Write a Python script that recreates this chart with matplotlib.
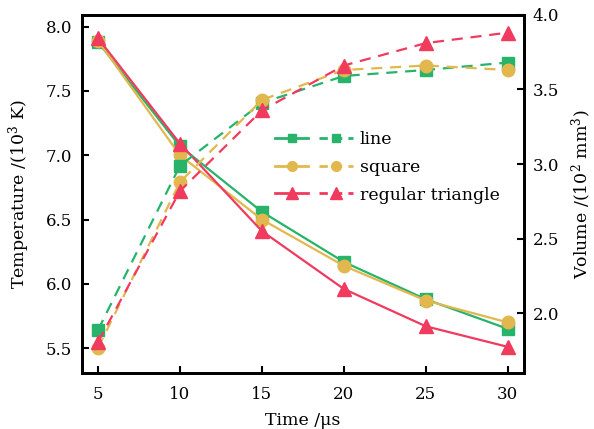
import matplotlib
matplotlib.use("Agg")
import matplotlib.pyplot as plt
from matplotlib.lines import Line2D
from matplotlib.legend_handler import HandlerTuple

# data
time = [5, 10, 15, 20, 25, 30]
shapes = ["line", "square", "regular triangle"]
temp_line = [7.88, 7.07, 6.56, 6.17, 5.88, 5.65]
temp_square = [7.89, 7.00, 6.50, 6.14, 5.87, 5.70]
temp_triangle = [7.91, 7.09, 6.41, 5.96, 5.67, 5.51]
vol_line = [1.89, 2.99, 3.41, 3.59, 3.63, 3.68]
vol_square = [1.77, 2.88, 3.43, 3.63, 3.66, 3.63]
vol_triangle = [1.81, 2.82, 3.36, 3.66, 3.81, 3.88]

colors = ["#27b36a", "#e2b84e", "#f03a5e"]
markers = ["s", "o", "^"]
msizes = [8, 9, 10]

plt.rcParams["font.family"] = ["DejaVu Serif"]
plt.rcParams["font.size"] = 12
plt.rcParams["mathtext.fontset"] = "dejavuserif"

fig = plt.figure(figsize=(5.94, 4.29), dpi=100)
ax = fig.add_axes([0.1375, 0.13, 0.745, 0.8357])
ax2 = ax.twinx()

temps = [temp_line, temp_square, temp_triangle]
vols = [vol_line, vol_square, vol_triangle]
handles = []
for i in range(3):
    ax.plot(time, temps[i], color=colors[i], marker=markers[i], ms=msizes[i], lw=1.6)
    ax2.plot(time, vols[i], color=colors[i], marker=markers[i], ms=msizes[i], lw=1.6,
             ls=(0, (5, 3.5)))
    # smaller proxies for the legend
    p1 = Line2D([], [], color=colors[i], marker=markers[i], ms=msizes[i] - 2, lw=2)
    p2 = Line2D([], [], color=colors[i], marker=markers[i], ms=msizes[i] - 2, lw=2,
                ls=(0, (3, 2.2)))
    handles.append((p1, p2))

ax.set_xlim(4, 31)
ax.set_ylim(5.305, 8.093)
ax2.set_ylim(1.6, 4.0)
ax.set_xticks(time)
ax.set_yticks([5.5, 6.0, 6.5, 7.0, 7.5, 8.0])
ax2.set_yticks([2.0, 2.5, 3.0, 3.5, 4.0])
ax.yaxis.set_major_formatter(matplotlib.ticker.FormatStrFormatter("%.1f"))
ax2.yaxis.set_major_formatter(matplotlib.ticker.FormatStrFormatter("%.1f"))

ax.set_xlabel("Time /μs", fontsize=12.5, labelpad=7)
ax.set_ylabel("Temperature /(10$^3$ K)", fontsize=12.5, labelpad=10)
ax2.set_ylabel("Volume /(10$^2$ mm$^3$)", fontsize=12.5, labelpad=8)

for a in (ax, ax2):
    a.tick_params(direction="in", length=5, width=1.5, labelsize=12)
    for s in a.spines.values():
        s.set_linewidth(2)
ax.tick_params(right=False, top=False)
ax.tick_params(axis="x", pad=9)
ax.tick_params(axis="y", pad=7)
ax2.tick_params(axis="y", pad=6)

ax2.legend(handles, shapes, handler_map={tuple: HandlerTuple(ndivide=None, pad=0.63)},
           handlelength=4.5, frameon=False, fontsize=12.5, loc="center left",
           bbox_to_anchor=(0.401, 0.575), labelspacing=0.63, handletextpad=0.4)

fig.savefig("out.png", dpi=100)
